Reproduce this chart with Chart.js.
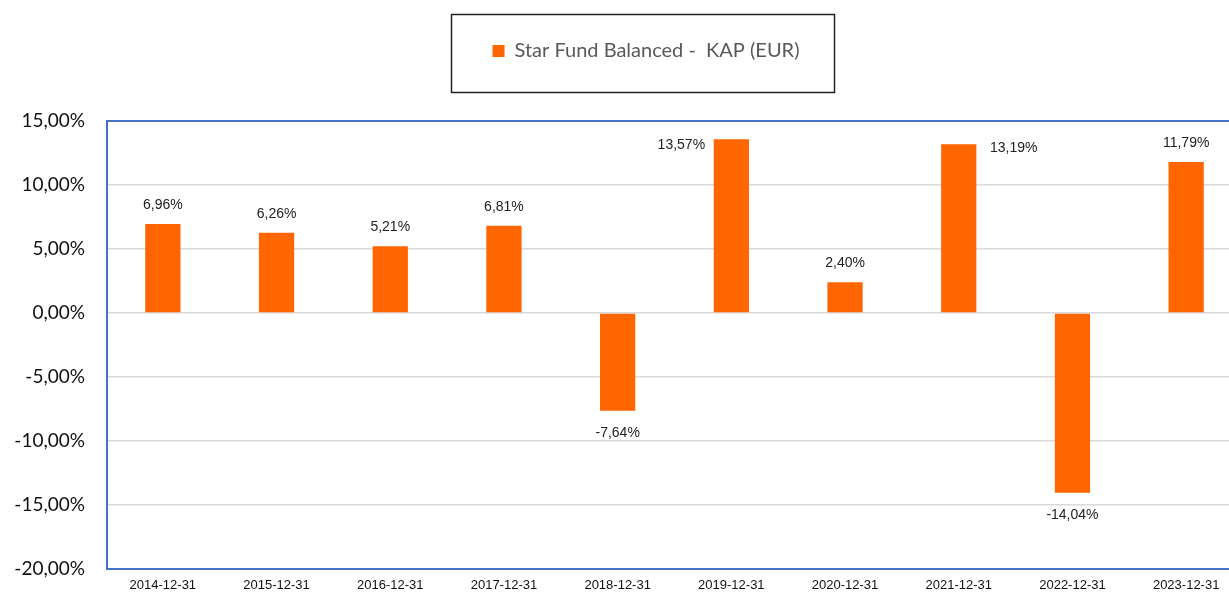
<!DOCTYPE html>
<html>
<head>
<meta charset="utf-8">
<script src="https://cdn.jsdelivr.net/npm/chart.js@4.4.1/dist/chart.umd.min.js"></script>
<style>
  html, body { margin: 0; padding: 0; background: #fff; overflow: hidden; }
  #clip { position: relative; width: 1229px; height: 594px; overflow: hidden; }
  #wrap { position: absolute; left: 0; top: 0; width: 1245px; height: 594px; }
</style>
</head>
<body>
<div id="clip"><div id="wrap"><canvas id="fundChart"></canvas></div></div>
<script>
// data
const categories = ['2014-12-31', '2015-12-31', '2016-12-31', '2017-12-31', '2018-12-31',
                    '2019-12-31', '2020-12-31', '2021-12-31', '2022-12-31', '2023-12-31'];
const returns = [6.96, 6.26, 5.21, 6.81, -7.64, 13.57, 2.40, 13.19, -14.04, 11.79];
const seriesName = 'Star Fund Balanced -  KAP (EUR)';
const yTicks = [-20, -15, -10, -5, 0, 5, 10, 15];

const ORANGE = '#FF6600';

function pct(v) {
  return v.toFixed(2).replace('.', ',') + '%';
}

// legend: fixed height so plot starts at the right spot, shifted + framed
const legendTweak = {
  id: 'legendTweak',
  beforeInit(chart) {
    const origFit = chart.legend.fit;
    chart.legend.fit = function () {
      origFit.bind(chart.legend)();
      this.height = 121;
    };
  },
  afterLayout(chart) {
    const lg = chart.legend;
    const dx = 646 - (lg.left + lg.right) / 2;
    lg.left += dx;
    lg.right += dx;
  },
  afterDraw(chart) {
    const lg = chart.legend;
    const cx = (lg.left + lg.right) / 2 - 3.5;
    const ctx = chart.ctx;
    ctx.save();
    ctx.strokeStyle = '#222';
    ctx.lineWidth = 1.5;
    ctx.strokeRect(Math.round(cx - 191.5) + 0.5, 14.5, 383, 78);
    ctx.restore();
  }
};

// blue frame around the plot area
const plotFrame = {
  id: 'plotFrame',
  beforeDatasetsDraw(chart) {
    const a = chart.chartArea;
    const ctx = chart.ctx;
    ctx.save();
    ctx.strokeStyle = '#4472C4';
    ctx.lineWidth = 2;
    ctx.strokeRect(a.left + 1, a.top, a.right - a.left + 10, a.bottom - a.top);
    ctx.restore();
  }
};

// value labels: above positive bars, below negative ones, beside the tallest two
const valueLabels = {
  id: 'valueLabels',
  afterDatasetsDraw(chart) {
    const ctx = chart.ctx;
    const meta = chart.getDatasetMeta(0);
    ctx.save();
    ctx.font = '14px "Liberation Sans", Arial, sans-serif';
    ctx.fillStyle = '#222';
    ctx.textAlign = 'center';
    ctx.textBaseline = 'middle';
    meta.data.forEach((bar, i) => {
      const v = returns[i];
      let x = bar.x, y;
      if (i === 5) { x = bar.x - 50; y = chart.chartArea.top + 24; }
      else if (i === 7) { x = bar.x + 55; y = chart.chartArea.top + 27; }
      else if (v >= 0) y = bar.y - 19;
      else y = bar.y + 22;
      ctx.fillText(pct(v), x, y);
    });
    ctx.restore();
  }
};

const cfg = {
  type: 'bar',
  data: {
    labels: categories,
    datasets: [{
      label: seriesName,
      data: returns,
      backgroundColor: ORANGE,
      borderWidth: 0,
      barPercentage: 0.31,
      categoryPercentage: 1.0
    }]
  },
  options: {
    responsive: true,
    maintainAspectRatio: false,
    animation: false,
    layout: { padding: { left: 0, right: 2, top: 0, bottom: 0 } },
    plugins: {
      tooltip: { enabled: false },
      legend: {
        display: true,
        position: 'top',
        labels: {
          boxWidth: 12,
          boxHeight: 12,
          padding: 41,
          color: '#595959',
          font: { family: 'Lato, "Open Sans", sans-serif', size: 20 }
        }
      }
    },
    scales: {
      x: {
        grid: { display: false, drawTicks: false },
        border: { display: false },
        ticks: {
          padding: 9,
          color: '#111',
          maxRotation: 0,
          autoSkip: false,
          font: { family: '"Liberation Sans", Arial, sans-serif', size: 13 }
        },
        afterFit(scale) { scale.height = 25; }
      },
      y: {
        min: -20,
        max: 15,
        afterBuildTicks(scale) { scale.ticks = yTicks.map(v => ({ value: v })); },
        grid: { color: '#d9d9d9', lineWidth: 1.5, drawTicks: false },
        border: { display: false },
        ticks: {
          padding: 21,
          color: '#111',
          font: { family: 'Lato, "Open Sans", sans-serif', size: 19 },
          callback: v => pct(v)
        },
        afterFit(scale) {
          scale.width = 106;
          // tick padding shouldn't reserve room above/below the plot
          scale.paddingTop = 0;
          scale.paddingBottom = 0;
        }
      }
    }
  },
  plugins: [legendTweak, plotFrame, valueLabels]
};

window.addEventListener('DOMContentLoaded', () => {
  const ctx = document.getElementById('fundChart').getContext('2d');
  new Chart(ctx, cfg);
});
</script>
</body>
</html>
